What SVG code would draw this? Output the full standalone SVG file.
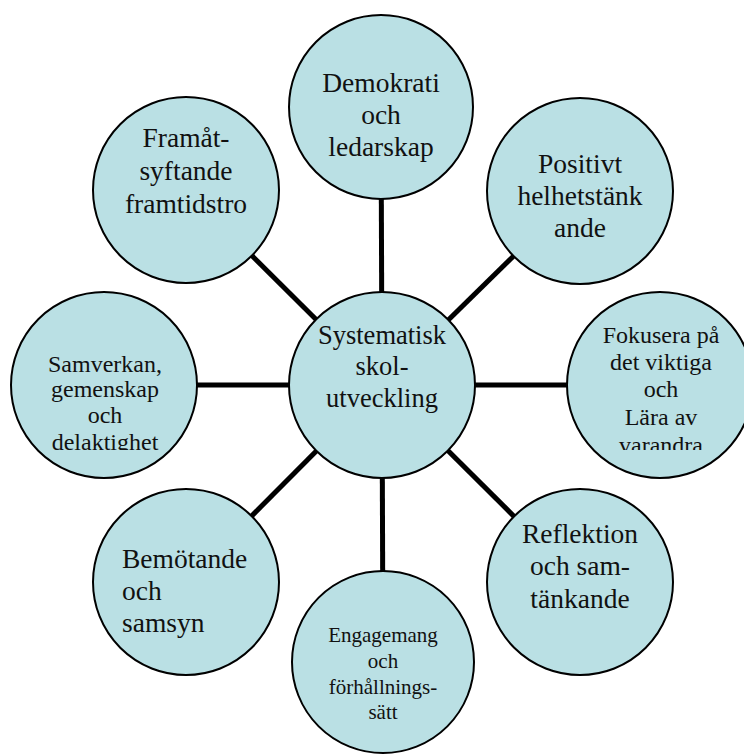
<svg xmlns="http://www.w3.org/2000/svg" width="744" height="754" viewBox="0 0 744 754" font-family="'Liberation Serif', 'Times New Roman', serif">
  <style>
    .node { fill: #BAE0E4; stroke: #000; stroke-width: 2; }
    .link { stroke: #000; stroke-width: 5; fill: none; }
    text { fill: #111; }
    .lg { font-size: 27.5px; text-anchor: middle; }
    .md { font-size: 26.5px; text-anchor: middle; }
    .sm { font-size: 24px; text-anchor: middle; }
    .xs { font-size: 21px; text-anchor: middle; }
    .left { font-size: 27.5px; }
  </style>
  <defs>
    <!-- text boxes of the two side circles cut their last line -->
    <clipPath id="clipFokus"><rect x="560" y="290" width="184" height="160"/></clipPath>
    <clipPath id="clipSamv"><rect x="0" y="290" width="200" height="160"/></clipPath>
  </defs>
  <rect width="744" height="754" fill="#fff"/>

  <!-- spokes from the hub to each surrounding circle -->
  <g id="connectors">
    <line class="link" x1="382" y1="385" x2="381" y2="107"/>
    <line class="link" x1="382" y1="385" x2="580" y2="191"/>
    <line class="link" x1="382" y1="385" x2="660" y2="385"/>
    <line class="link" x1="382" y1="385" x2="580" y2="582"/>
    <line class="link" x1="382" y1="385" x2="383" y2="662"/>
    <line class="link" x1="382" y1="385" x2="186" y2="582"/>
    <line class="link" x1="382" y1="385" x2="104" y2="385"/>
    <line class="link" x1="382" y1="385" x2="186" y2="190"/>
  </g>

  <g id="hub">
    <circle class="node" cx="382" cy="385" r="93"/>
    <text class="md" x="382" y="344">Systematisk</text>
    <text class="md" x="382" y="375">skol-</text>
    <text class="md" x="382" y="407">utveckling</text>
  </g>

  <g id="demokrati">
    <circle class="node" cx="381" cy="107" r="92"/>
    <text class="lg" x="381" y="92">Demokrati</text>
    <text class="lg" x="381" y="124">och</text>
    <text class="lg" x="381" y="156">ledarskap</text>
  </g>

  <g id="positivt">
    <circle class="node" cx="580" cy="191" r="93"/>
    <text class="lg" x="580" y="173">Positivt</text>
    <text class="lg" x="580" y="205">helhetstänk</text>
    <text class="lg" x="580" y="237">ande</text>
  </g>

  <g id="fokusera">
    <circle class="node" cx="660" cy="385" r="93"/>
    <g clip-path="url(#clipFokus)">
      <text class="sm" x="661" y="343">Fokusera på</text>
      <text class="sm" x="661" y="370">det viktiga</text>
      <text class="sm" x="661" y="397">och</text>
      <text class="sm" x="661" y="425">Lära av</text>
      <text class="sm" x="661" y="453">varandra</text>
    </g>
  </g>

  <g id="reflektion">
    <circle class="node" cx="580" cy="582" r="93"/>
    <text class="lg" x="580" y="543">Reflektion</text>
    <text class="lg" x="580" y="575">och sam-</text>
    <text class="lg" x="580" y="608">tänkande</text>
  </g>

  <g id="engagemang">
    <circle class="node" cx="383" cy="662" r="91"/>
    <text class="xs" x="383" y="642">Engagemang</text>
    <text class="xs" x="383" y="668">och</text>
    <text class="xs" x="383" y="694">förhållnings-</text>
    <text class="xs" x="383" y="719">sätt</text>
  </g>

  <g id="bemotande">
    <circle class="node" cx="186" cy="582" r="93"/>
    <text class="left" x="122" y="568">Bemötande</text>
    <text class="left" x="122" y="600">och</text>
    <text class="left" x="122" y="632">samsyn</text>
  </g>

  <g id="samverkan">
    <circle class="node" cx="104" cy="385" r="93"/>
    <g clip-path="url(#clipSamv)">
      <text class="sm" x="105" y="372">Samverkan,</text>
      <text class="sm" x="105" y="397">gemenskap</text>
      <text class="sm" x="105" y="423">och</text>
      <text class="sm" x="105" y="450">delaktighet</text>
    </g>
  </g>

  <g id="framat">
    <circle class="node" cx="186" cy="190" r="93"/>
    <text class="lg" x="186" y="147">Framåt-</text>
    <text class="lg" x="186" y="180">syftande</text>
    <text class="lg" x="186" y="213">framtidstro</text>
  </g>
</svg>
